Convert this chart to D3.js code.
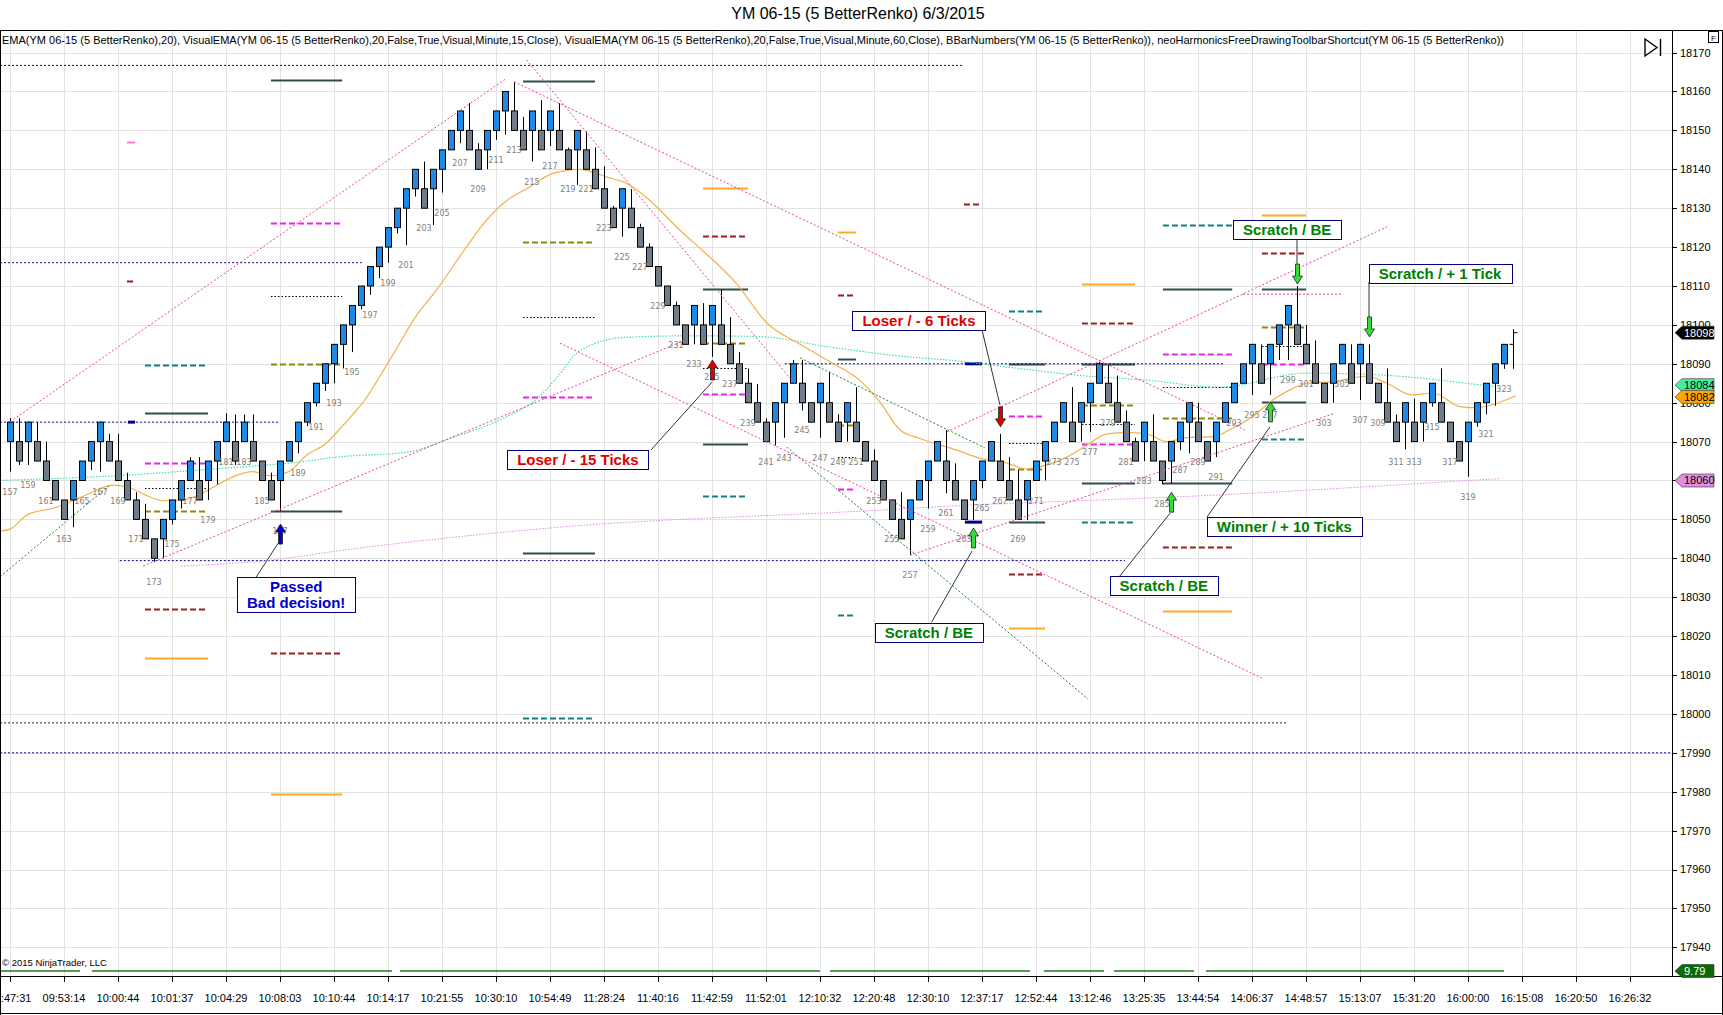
<!DOCTYPE html>
<html>
<head>
<meta charset="utf-8">
<script src="https://cdn.jsdelivr.net/npm/d3@7"></script>
<style>
body { margin: 0; background: #fff; }
svg { display: block; }
</style>
</head>
<body>
<div id="container"></div>
<script>
// ---- data ----
var title = "YM 06-15 (5 BetterRenko)  6/3/2015";
var header = "EMA(YM 06-15 (5 BetterRenko),20), VisualEMA(YM 06-15 (5 BetterRenko),20,False,True,Visual,Minute,15,Close), VisualEMA(YM 06-15 (5 BetterRenko),20,False,True,Visual,Minute,60,Close), BBarNumbers(YM 06-15 (5 BetterRenko)), neoHarmonicsFreeDrawingToolbarShortcut(YM 06-15 (5 BetterRenko))";

var firstBar = 157;
var barOpen = [
  18070,18070,18070,18070,18065,18060,18055,18055,18060,18065,
  18070,18070,18065,18060,18055,18050,18045,18045,18050,18055,
  18060,18060,18060,18065,18070,18070,18070,18070,18065,18060,
  18060,18065,18070,18075,18080,18085,18090,18095,18100,18105,
  18110,18115,18120,18125,18130,18135,18135,18135,18140,18145,
  18150,18150,18145,18145,18150,18155,18155,18150,18150,18150,
  18150,18150,18145,18145,18145,18140,18135,18130,18130,18130,
  18125,18120,18115,18110,18105,18100,18100,18100,18100,18100,
  18095,18090,18085,18080,18075,18075,18080,18085,18085,18080,
  18080,18080,18075,18075,18075,18070,18065,18060,18055,18050,
  18050,18055,18060,18065,18065,18060,18055,18055,18060,18065,
  18065,18060,18055,18055,18060,18065,18070,18075,18075,18075,
  18080,18085,18085,18080,18075,18070,18070,18070,18065,18065,
  18070,18075,18075,18070,18070,18075,18080,18085,18090,18090,
  18090,18095,18100,18100,18095,18090,18085,18085,18090,18090,
  18090,18090,18085,18080,18075,18075,18075,18075,18080,18080,
  18075,18070,18070,18075,18080,18085,18090
];
var barClose = [
  18075,18065,18075,18065,18060,18055,18050,18060,18065,18070,
  18075,18065,18060,18055,18050,18045,18040,18050,18055,18060,
  18065,18055,18065,18070,18075,18065,18075,18065,18060,18055,
  18065,18070,18075,18080,18085,18090,18095,18100,18105,18110,
  18115,18120,18125,18130,18135,18140,18130,18140,18145,18150,
  18155,18145,18140,18150,18155,18160,18150,18145,18155,18145,
  18155,18145,18140,18150,18140,18135,18130,18125,18135,18125,
  18120,18115,18110,18105,18100,18095,18105,18095,18105,18095,
  18090,18085,18080,18075,18070,18080,18085,18090,18080,18075,
  18085,18075,18070,18080,18070,18065,18060,18055,18050,18045,
  18055,18060,18065,18070,18060,18055,18050,18060,18065,18070,
  18060,18055,18050,18060,18065,18070,18075,18080,18070,18080,
  18085,18090,18080,18075,18070,18065,18075,18065,18060,18070,
  18075,18080,18070,18065,18075,18080,18085,18090,18095,18085,
  18095,18100,18105,18095,18090,18085,18080,18090,18095,18085,
  18095,18085,18080,18075,18070,18080,18070,18080,18085,18075,
  18070,18065,18075,18080,18085,18090,18095
];
var barHigh = [
  18076,18076,18075,18075,18070,18060,18055,18060,18065,18070,
  18075,18072,18072,18062,18057,18054,18045,18050,18055,18060,
  18066,18066,18065,18070,18077.3,18077,18077,18077,18065,18062,
  18065,18070,18075,18080,18085,18090,18095,18100,18105,18110,
  18115,18120,18125,18130,18135,18140,18142,18140,18145,18150,
  18155,18157,18146.7,18150,18155,18160,18162.5,18153.5,18155,18157.8,
  18155,18157,18145.6,18150,18149.7,18145.6,18140.8,18130.6,18135,18134.9,
  18126,18121,18115,18110,18106,18100,18105,18105.6,18105,18109,
  18102,18093,18088.8,18084.8,18076,18080,18085,18091,18091,18080,
  18085,18088,18077,18080,18084,18070,18068,18060,18055,18057,
  18055,18060,18065,18070,18073,18064.4,18055,18060,18065,18070,
  18072,18066,18062.7,18060,18065,18070,18075,18080,18084,18080,
  18085,18090.5,18089.7,18087,18078,18071,18075,18077,18065,18070,
  18075,18080,18080,18070,18075,18080,18085,18090,18095,18095,
  18095,18100,18105,18110,18100,18096,18085,18090,18095,18095,
  18095,18095,18085,18088.8,18077,18080,18081,18080,18085,18088.8,
  18075,18070,18075,18080,18085,18090,18095
];
var barLow = [
  18062.3,18064,18064,18065,18060,18055,18050,18048,18060,18062.7,
  18062.3,18065,18060,18055,18050,18045,18039,18040,18048.7,18052.8,
  18060,18055,18055,18059,18070,18064,18070,18065,18060,18055,
  18052.2,18065,18067,18074,18079,18083,18085,18088.8,18093,18104,
  18107.7,18112,18116,18123.5,18120.5,18133,18130,18125.7,18134,18145,
  18146.7,18145,18140,18140,18147.6,18148.9,18150,18145,18142,18145,
  18146,18145,18140,18136,18140,18135,18130,18125,18122.7,18125,
  18120,18115,18110,18105,18100,18095,18095,18095,18091.8,18095,
  18090,18085,18080,18075,18070,18069,18071,18085,18078,18075,
  18071,18075,18070,18070,18070,18065,18060,18055,18050,18045,
  18040.8,18055,18052.8,18065,18056.7,18055,18050,18049.8,18058,18065,
  18060,18055,18050,18049.8,18060,18060,18070,18075,18070,18070,
  18072.5,18085,18080,18075,18070,18065,18065,18065,18059,18059.3,
  18067.8,18067,18070,18065,18066,18075,18080,18085,18082,18085,
  18082,18091,18091,18095,18090,18085,18080,18080,18090,18085,
  18080.7,18085,18080,18075,18070,18068,18070,18070,18079,18075,
  18070,18065,18061,18073.8,18077,18079.2,18088.7
];
// bar still forming at the right edge: number, open, last, high, low
var formingBar = [324, 18095, 18098, 18098.9, 18088.7];

var timeLabels = ["09:47:31","09:53:14","10:00:44","10:01:37","10:04:29","10:08:03","10:10:44",
  "10:14:17","10:21:55","10:30:10","10:54:49","11:28:24","11:40:16","11:42:59","11:52:01",
  "12:10:32","12:20:48","12:30:10","12:37:17","12:52:44","13:12:46","13:25:35","13:44:54",
  "14:06:37","14:48:57","15:13:07","15:31:20","16:00:00","16:15:08","16:20:50","16:26:32"];
var timeEvery = 6;
var priceTicks = d3.range(17940, 18171, 10);

// moving averages: [bar, value]
var emaRenko = [[155.9,18047],[157,18047.5],[159,18051.3],[162,18053],[165,18055.8],[168.5,18058.8],
  [170,18058.4],[172,18056.3],[174,18054.8],[176,18054.9],[178,18056.3],[180,18058.8],[182,18061.2],
  [184,18062.3],[186,18061.2],[188,18062.3],[190,18066.6],[192,18069.3],[193.7,18073.4],[195.1,18077],
  [196.2,18080],[199.2,18091],[202.2,18102.5],[204.4,18109],[207.4,18119],[209.6,18126],[212.2,18132],
  [214.4,18135],[217.4,18139],[220.3,18140],[223.3,18138],[225.5,18136.4],[228.1,18132],[231.4,18124.4],
  [234,18119],[237.7,18110.7],[241.1,18100.5],[244.8,18095],[248.5,18090],[251.4,18085.8],[253.7,18080],
  [255.9,18073],[258.1,18070.8],[262.2,18067.8],[264.8,18065.7],[267.7,18064.5],[270,18063],[272.2,18064],
  [274.4,18066],[276.6,18069],[278.9,18072],[281.1,18072.3],[283.3,18072],[285.5,18070],[287.7,18071],
  [290.7,18071.3],[292.9,18073.5],[295.1,18076.5],[297.4,18080.8],[299.2,18083.3],[301.1,18085],
  [304,18085.4],[307.7,18086.8],[310,18085],[312.8,18082],[315.1,18082.5],[318.1,18079],[319.9,18078.7],
  [322.4,18080],[324.3,18081.8]];
var ema15m = [[155.9,18060],[157,18060.1],[167,18061],[178.1,18062.7],[190,18065],[193.3,18066],
  [201.4,18067.4],[205.4,18070.4],[211.8,18076],[215.4,18080.7],[217.7,18086.3],[220.4,18093.5],
  [225.4,18096.8],[232.9,18097.2],[240.3,18097],[247.8,18094.4],[258.1,18091.5],[261.1,18091],
  [268.4,18089],[275.9,18087],[283.3,18085.8],[291.4,18084],[301.1,18087.6],[307.8,18087.3],
  [315.1,18086],[318.8,18085],[322.4,18084]];
var ema60m = [[176,18038],[186.2,18039.6],[193.7,18042],[218.1,18048],[253.7,18052.4],[258.1,18053],
  [291.4,18056.3],[322.6,18060.5]];

// drawn trend lines: [bar1, price1, bar2, price2]
var pinkLines = [[157,18075.1,212,18163.1],[171.8,18038,231.8,18095.9],[214.4,18168.1,244.2,18084.8],
  [213,18162.5,294.2,18073],[218.1,18095.3,296.1,18009.2],[261.1,18072.5,310,18125.2],
  [257,18040.8,304,18077.1],[294,18107.9,305.1,18107.9]];
var greenLines = [[155.9,18035.3,168.1,18058.8],[244.8,18091.5,265.3,18068.4],[243.3,18068.6,276.8,18003.8]];
var navyLines = [[155.9,18166.7,262.8,18166.7],[155.9,18116,196.1,18116],[155.9,18075,187,18075],
  [243.1,18090,292,18090],[169.2,18039.4,280.9,18039.4],[155.9,17990,341.7,17990]];
var blackLines = [[155.9,17997.7,298.8,17997.7]];
var navyStubs = [[170.1,18075,170.9,18075],[263.1,18090,265,18090],[263.1,18049.3,265,18049.3]];

// level ladders: bar spans and [span, kind, price]
var levelSpans = [[170,170.9],[172,179],[186,193.9],[214,222],[234,239],[249,251],[263,265],
  [268,272],[276.1,282],[285.1,292.8],[296.1,301]];
var levels = [
  [0,"pink",18147],[0,"red",18111.3],
  [1,"dark",18077.3],[1,"teal",18089.7],[1,"magenta",18064.6],[1,"black",18058],[1,"olive",18052.2],[1,"red",18027],[1,"orange",18014.4],
  [2,"dark",18162.9],[2,"magenta",18126.3],[2,"black",18107.4],[2,"olive",18089.9],[2,"dark",18052.2],[2,"red",18015.7],[2,"orange",17979.3],
  [3,"dark",18162.8],[3,"olive",18121.4],[3,"black",18102],[3,"magenta",18081.4],[3,"dark",18041.4],[3,"teal",17999],
  [4,"orange",18135.2],[4,"red",18122.8],[4,"dark",18109.2],[4,"olive",18095.4],[4,"black",18088.8],[4,"magenta",18082.2],[4,"dark",18069.3],[4,"teal",18056],
  [5,"orange",18124],[5,"red",18107.7],[5,"dark",18091.2],[5,"olive",18074.3],[5,"black",18066],[5,"magenta",18057.7],[5,"teal",18025.3],
  [6,"red",18131],
  [7,"teal",18103.6],[7,"dark",18090],[7,"magenta",18076.6],[7,"black",18069.6],[7,"olive",18063],[7,"dark",18049.3],[7,"red",18036],[7,"orange",18022],
  [8,"orange",18110.6],[8,"red",18100.4],[8,"dark",18090],[8,"olive",18079.4],[8,"black",18074.5],[8,"magenta",18069.4],[8,"dark",18059.3],[8,"teal",18049.3],
  [9,"teal",18125.7],[9,"dark",18109.2],[9,"magenta",18092.6],[9,"black",18084],[9,"olive",18076.1],[9,"dark",18059.3],[9,"red",18042.8],[9,"orange",18026.5],
  [10,"orange",18128.2],[10,"red",18118.6],[10,"dark",18109.2],[10,"olive",18099.4],[10,"black",18094.6],[10,"magenta",18089.9],[10,"dark",18080.3],[10,"teal",18070.6]
];

// trade arrows
var arrowBars = [187, 235, 264, 267, 286, 297, 300, 308];
var arrowDirs = ["up","up","up","down","up","up","down","down"];
var arrowTips = [18048.8, 18091, 18047.8, 18073.8, 18057, 18080.2, 18110.5, 18096.9];
var arrowKinds = ["blue","red","green","red","green","green","green","green"];

// text notes
var noteText = [["Passed","Bad decision!"],["Loser / - 15 Ticks"],["Loser / - 6 Ticks"],["Scratch / BE"],
  ["Scratch / BE"],["Winner / + 10 Ticks"],["Scratch / BE"],["Scratch / + 1 Tick"]];
var noteBar = [188.8, 220.1, 258, 259.1, 285.2, 298.6, 298.9, 315.9];
var notePrice = [18030.7, 18065.4, 18101.1, 18021, 18033, 18048.2, 18124.5, 18113.3];
var noteKinds = ["blue","red","red","green","green","green","green","green"];
var noteLeaders = [[184.2,18034.6,186.8,18043.9],[228.2,18067.8,235,18085.3],[265,18098.7,267,18079.4],
  [259.4,18023.6,263.9,18041.9],[280.3,18035.4,285.9,18051.6],[290,18050.6,297,18073.8],
  [300,18122.3,300,18115.7],[308,18111,308,18102]];

// price markers on the axis
var markerVals = ["18098","18084","18082","18060"];
var markerPrice = [18098, 18084, 18082, 18060];
var markerShift = [0, -2, 2, 0];
var markerFill = ["#000000","#44eea0","#ffa500","#e08ee0"];
var markerInk = ["#ffffff","#000000","#000000","#000000"];
var lowerValue = "9.79";

// ---- layout ----
var W = 1723, H = 1015;
var axisX = 1672, paneTop = 31, paneBottom = 958, timeTop = 976;
var font = "'Liberation Sans', Arial, sans-serif";

var x = d3.scaleLinear().domain([157, 337]).range([10, 1630]);
var y = d3.scaleLinear().domain([17940, 18170]).range([947.3, 52.6]);

var svg = d3.select("#container").append("svg")
    .attr("width", W)
    .attr("height", H)
    .style("font-family", font);

svg.append("rect").attr("width", W).attr("height", H).attr("fill", "#fff");

svg.append("defs").append("clipPath").attr("id", "plot")
    .append("rect")
    .attr("x", 0).attr("y", paneTop)
    .attr("width", axisX).attr("height", paneBottom - paneTop);

// grid
var grid = svg.append("g").attr("stroke", "#e2e2e2").attr("stroke-width", 1);
var timeBars = timeLabels.map(function(d, i) { return firstBar + i * timeEvery; });
grid.selectAll("line.v").data(timeBars).enter().append("line")
    .attr("x1", function(d) { return Math.round(x(d)) + 0.5; })
    .attr("x2", function(d) { return Math.round(x(d)) + 0.5; })
    .attr("y1", paneTop).attr("y2", timeTop);
grid.selectAll("line.h").data(priceTicks).enter().append("line")
    .attr("x1", 0).attr("x2", axisX)
    .attr("y1", function(d) { return Math.round(y(d)) + 0.5; })
    .attr("y2", function(d) { return Math.round(y(d)) + 0.5; });

var plot = svg.append("g").attr("clip-path", "url(#plot)");

function segs(g, data, stroke, width, dash) {
    g.selectAll(null).data(data).enter().append("line")
        .attr("x1", function(d) { return x(d[0]); })
        .attr("y1", function(d) { return y(d[1]); })
        .attr("x2", function(d) { return x(d[2]); })
        .attr("y2", function(d) { return y(d[3]); })
        .attr("stroke", stroke)
        .attr("stroke-width", width)
        .attr("stroke-dasharray", dash);
}

// level ladders
var levelStyle = {
    dark:    ["#2f4f4f", 2, null],
    magenta: ["#ee22ee", 2, "6,3"],
    olive:   ["#8a8a10", 2, "6,3"],
    teal:    ["#117f7f", 2, "6,3"],
    red:     ["#9a2020", 2, "6,3"],
    orange:  ["#ffaa22", 2, null],
    black:   ["#000000", 1, "1.5,2"],
    pink:    ["#ff77cc", 2, null]
};
plot.selectAll("line.lvl").data(levels).enter().append("line")
    .attr("x1", function(d) { return x(levelSpans[d[0]][0]); })
    .attr("x2", function(d) { return x(levelSpans[d[0]][1]); })
    .attr("y1", function(d) { return Math.round(y(d[2])) + 0.5; })
    .attr("y2", function(d) { return Math.round(y(d[2])) + 0.5; })
    .attr("stroke", function(d) { return levelStyle[d[1]][0]; })
    .attr("stroke-width", function(d) { return levelStyle[d[1]][1]; })
    .attr("stroke-dasharray", function(d) { return levelStyle[d[1]][2]; });

segs(plot, navyLines, "#00008b", 1, "2,2");
segs(plot, blackLines, "#222", 1, "2,2");
segs(plot, navyStubs, "#00008b", 3, null);

// moving averages
var maLine = d3.line()
    .x(function(d) { return x(d[0]); })
    .y(function(d) { return y(d[1]); })
    .curve(d3.curveMonotoneX);
plot.append("path").attr("d", maLine(ema60m))
    .attr("fill", "none").attr("stroke", "#e58ae5").attr("stroke-width", 1).attr("stroke-dasharray", "1.5,1.5");
plot.append("path").attr("d", maLine(ema15m))
    .attr("fill", "none").attr("stroke", "#3fe0a8").attr("stroke-width", 1.2).attr("stroke-dasharray", "1.5,1.5");
plot.append("path").attr("d", maLine(emaRenko))
    .attr("fill", "none").attr("stroke", "#f3b04a").attr("stroke-width", 1.2);

// bars
var bars = barOpen.map(function(o, i) {
    return {n: firstBar + i, o: o, c: barClose[i], h: barHigh[i], l: barLow[i]};
});
var barG = plot.append("g");
barG.selectAll("line.wick").data(bars).enter().append("line")
    .attr("x1", function(d) { return Math.round(x(d.n)) + 0.5; })
    .attr("x2", function(d) { return Math.round(x(d.n)) + 0.5; })
    .attr("y1", function(d) { return y(d.h); })
    .attr("y2", function(d) { return y(d.l); })
    .attr("stroke", "#000").attr("stroke-width", 1);
barG.selectAll("rect").data(bars).enter().append("rect")
    .attr("x", function(d) { return Math.round(x(d.n)) - 2.5; })
    .attr("y", function(d) { return y(Math.max(d.o, d.c)); })
    .attr("width", 6)
    .attr("height", function(d) { return y(Math.min(d.o, d.c)) - y(Math.max(d.o, d.c)); })
    .attr("fill", function(d) { return d.c > d.o ? "#1e8ae8" : "#6f7d8a"; })
    .attr("stroke", "#000").attr("stroke-width", 1);

var fx = Math.round(x(formingBar[0])) + 0.5;
barG.append("line").attr("x1", fx).attr("x2", fx)
    .attr("y1", y(formingBar[3])).attr("y2", y(formingBar[4])).attr("stroke", "#000");
barG.append("line").attr("x1", fx - 4).attr("x2", fx)
    .attr("y1", y(formingBar[1])).attr("y2", y(formingBar[1])).attr("stroke", "#000");
barG.append("line").attr("x1", fx).attr("x2", fx + 4)
    .attr("y1", y(formingBar[2])).attr("y2", y(formingBar[2])).attr("stroke", "#000");

// bar numbers
barG.selectAll("text").data(bars.filter(function(d) { return d.n % 2 == 1; })).enter().append("text")
    .attr("x", function(d) { return x(d.n); })
    .attr("y", function(d) { return y(d.l) + 23; })
    .attr("text-anchor", "middle")
    .attr("fill", "#808080")
    .style("font-family", "'DejaVu Sans', Verdana, sans-serif")
    .style("font-size", "8px")
    .text(function(d) { return d.n; });

// trend lines on top
segs(plot, pinkLines, "#f0409a", 1, "2,2");
segs(plot, greenLines, "#2e7d32", 1, "2,2");

// leaders
segs(plot, noteLeaders, "#333", 1, null);

// arrows
var inkColor = {blue: "#0000cc", red: "#e00000", green: "#008000"};
var arrowFill = {blue: "#0000dd", red: "#e00000", green: "#33dd33"};
var arrowShape = [[0,0],[5,8],[2,8],[2,20],[-2,20],[-2,8],[-5,8]];
plot.selectAll("polygon.arrow").data(arrowBars).enter().append("polygon")
    .attr("points", function(d, i) {
        var cx = Math.round(x(d)) + 0.5, ty = y(arrowTips[i]);
        var s = arrowDirs[i] == "up" ? 1 : -1;
        return arrowShape.map(function(p) { return [cx + p[0], ty + s * p[1]].join(","); }).join(" ");
    })
    .attr("fill", function(d, i) { return arrowFill[arrowKinds[i]]; })
    .attr("stroke", "#222").attr("stroke-width", 0.8);

// notes
noteText.forEach(function(lines, i) {
    var cx = x(noteBar[i]), cy = y(notePrice[i]);
    var g = plot.append("g");
    var box = g.append("rect");
    var lh = 16;
    var maxW = 0;
    lines.forEach(function(t, k) {
        var tx = g.append("text")
            .attr("x", cx)
            .attr("y", cy + (k - (lines.length - 1) / 2) * lh)
            .attr("dy", "0.36em")
            .attr("text-anchor", "middle")
            .attr("fill", inkColor[noteKinds[i]])
            .style("font-weight", "bold")
            .style("font-size", "15px")
            .text(t);
        maxW = Math.max(maxW, tx.node().getComputedTextLength());
    });
    var bw = maxW + 20, bh = lines.length * lh + 3;
    box.attr("x", Math.round(cx - bw / 2) + 0.5)
        .attr("y", Math.round(cy - bh / 2) + 0.5)
        .attr("width", Math.round(bw))
        .attr("height", Math.round(bh))
        .attr("fill", "#fff")
        .attr("stroke", "#000080").attr("stroke-width", 1);
});

// lower pane line
svg.append("line")
    .attr("x1", 0).attr("x2", x(323))
    .attr("y1", 971).attr("y2", 971)
    .attr("stroke", "#1f7a1f").attr("stroke-width", 1.5)
    .attr("stroke-dasharray", "80,12,300,8,420,10,200,14,60,10");

svg.append("text")
    .attr("x", 2).attr("y", 966)
    .style("font-size", "9.5px")
    .attr("fill", "#000")
    .text("\u00a9 2015 NinjaTrader, LLC");

// frame and axes
svg.append("line").attr("x1", 0).attr("x2", W).attr("y1", 30.5).attr("y2", 30.5).attr("stroke", "#000");
svg.append("line").attr("x1", 0).attr("x2", W).attr("y1", timeTop + 0.5).attr("y2", timeTop + 0.5).attr("stroke", "#000");
svg.append("line").attr("x1", 0.5).attr("x2", 0.5).attr("y1", 30).attr("y2", H).attr("stroke", "#000");
svg.append("line").attr("x1", W - 0.5).attr("x2", W - 0.5).attr("y1", 30).attr("y2", H).attr("stroke", "#000");
svg.append("line").attr("x1", 0).attr("x2", W).attr("y1", H - 1.5).attr("y2", H - 1.5).attr("stroke", "#000");
svg.append("line").attr("x1", axisX + 0.5).attr("x2", axisX + 0.5).attr("y1", 30).attr("y2", timeTop).attr("stroke", "#000");

var yAxis = svg.append("g");
yAxis.selectAll("line").data(priceTicks).enter().append("line")
    .attr("x1", axisX).attr("x2", axisX + 5)
    .attr("y1", function(d) { return Math.round(y(d)) + 0.5; })
    .attr("y2", function(d) { return Math.round(y(d)) + 0.5; })
    .attr("stroke", "#000");
yAxis.selectAll("text").data(priceTicks).enter().append("text")
    .attr("x", axisX + 8)
    .attr("y", function(d) { return y(d); })
    .attr("dy", "0.36em")
    .style("font-size", "11px")
    .text(function(d) { return d; });

var xAxis = svg.append("g");
xAxis.selectAll("line").data(timeBars).enter().append("line")
    .attr("x1", function(d) { return Math.round(x(d)) + 0.5; })
    .attr("x2", function(d) { return Math.round(x(d)) + 0.5; })
    .attr("y1", timeTop).attr("y2", timeTop + 6)
    .attr("stroke", "#000");
xAxis.selectAll("text").data(timeBars).enter().append("text")
    .attr("x", function(d) { return x(d); })
    .attr("y", 1002)
    .attr("text-anchor", "middle")
    .style("font-size", "11px")
    .text(function(d, i) { return timeLabels[i]; });

// axis markers
function marker(yc, label, fill, ink, left) {
    var g = svg.append("g");
    g.append("polygon")
        .attr("points", [[left, yc], [left + 7, yc - 6.5], [1714, yc - 6.5], [1714, yc + 6.5], [left + 7, yc + 6.5]].join(" "))
        .attr("fill", fill).attr("stroke", "#333").attr("stroke-width", 0.6);
    g.append("text").attr("x", left + 9).attr("y", yc).attr("dy", "0.36em")
        .attr("fill", ink).style("font-size", "11px").text(label);
}
markerVals.forEach(function(v, i) {
    marker(y(markerPrice[i]) + markerShift[i], v, markerFill[i], markerInk[i], 1675);
});
marker(971, lowerValue, "#0b6b0b", "#fff", 1675);

// title and header
svg.append("text").attr("x", 858).attr("y", 19)
    .attr("text-anchor", "middle").style("font-size", "16px").text(title);
svg.append("text").attr("x", 2).attr("y", 44)
    .style("font-size", "11px")
    .attr("textLength", 1502).attr("lengthAdjust", "spacingAndGlyphs")
    .text(header);

// toolbar glyphs
svg.append("path").attr("d", "M1645,39 L1645,56 L1657,47.5 Z M1660.5,39 L1660.5,56")
    .attr("fill", "none").attr("stroke", "#000").attr("stroke-width", 1.4);
svg.append("rect").attr("x", 1708.5).attr("y", 31.5).attr("width", 10).attr("height", 11)
    .attr("fill", "#fff").attr("stroke", "#000");
svg.append("text").attr("x", 1713.5).attr("y", 40.5).attr("text-anchor", "middle")
    .style("font-size", "8px").text("F");
</script>
</body>
</html>
